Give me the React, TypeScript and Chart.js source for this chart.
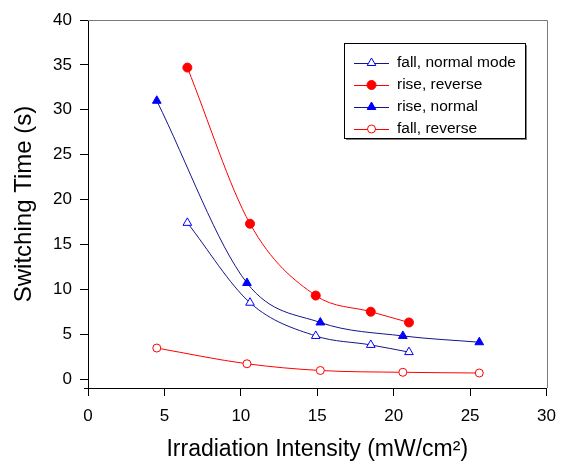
import React, { useEffect, useRef } from 'react';
import { Chart, registerables } from 'chart.js';

Chart.register(...registerables);

const FONT = "'Liberation Sans', Arial, sans-serif";

const xTicks = [0, 5, 10, 15, 20, 25, 30];
const yTicks = [0, 5, 10, 15, 20, 25, 30, 35, 40];

const seriesNames = ['fall, normal mode', 'rise, reverse', 'rise, normal', 'fall, reverse'];

const fallNormalX = [6.5, 10.6, 14.9, 18.5, 21.0];
const fallNormalY = [17.4, 8.5, 4.8, 3.8, 3.0];

const riseReverseX = [6.5, 10.6, 14.9, 18.5, 21.0];
const riseReverseY = [34.7, 17.3, 9.3, 7.5, 6.3];

const riseNormalX = [4.5, 10.4, 15.2, 20.6, 25.6];
const riseNormalY = [31.0, 10.7, 6.3, 4.8, 4.1];

const fallReverseX = [4.5, 10.4, 15.2, 20.6, 25.6];
const fallReverseY = [3.45, 1.7, 0.95, 0.75, 0.67];

const BLUE_LINE = '#14148c';
const BLUE = '#0000ff';
const RED = '#ff0000';

const toPts = (xs: number[], ys: number[]) => xs.map((x, i) => ({ x, y: ys[i] }));

const seriesStyles = [
  { line: BLUE_LINE, mark: BLUE, shape: 'triangle', fill: '#ffffff', r: 5 },
  { line: RED, mark: RED, shape: 'circle', fill: RED, r: 4.5 },
  { line: BLUE_LINE, mark: BLUE, shape: 'triangle', fill: BLUE, r: 5 },
  { line: RED, mark: RED, shape: 'circle', fill: '#ffffff', r: 4 },
];

function drawMarker(ctx: CanvasRenderingContext2D, shape: string, x: number, y: number, r: number, fill: string, stroke: string) {
  ctx.beginPath();
  if (shape === 'circle') {
    ctx.arc(x, y, r, 0, Math.PI * 2);
  } else {
    let rad = 0;
    ctx.moveTo(x + Math.sin(rad) * r, y - Math.cos(rad) * r);
    rad += (2 * Math.PI) / 3;
    ctx.lineTo(x + Math.sin(rad) * r, y - Math.cos(rad) * r);
    rad += (2 * Math.PI) / 3;
    ctx.lineTo(x + Math.sin(rad) * r, y - Math.cos(rad) * r);
    ctx.closePath();
  }
  ctx.fillStyle = fill;
  ctx.fill();
  ctx.lineWidth = 1;
  ctx.strokeStyle = stroke;
  ctx.stroke();
}

const framePlugin = {
  id: 'grayFrame',
  beforeDatasetsDraw(chart: any) {
    const { ctx, chartArea } = chart;
    const { left, right, top, bottom } = chartArea;
    ctx.save();
    ctx.lineWidth = 1;
    ctx.strokeStyle = '#7a7a7a';
    ctx.beginPath();
    ctx.moveTo(left, Math.round(top) + 0.5);
    ctx.lineTo(Math.round(right) + 0.5, Math.round(top) + 0.5);
    ctx.lineTo(Math.round(right) + 0.5, bottom);
    ctx.stroke();
    // axis overhangs at the lower-left corner
    ctx.strokeStyle = '#000';
    ctx.beginPath();
    ctx.moveTo(Math.round(left) + 0.5, bottom);
    ctx.lineTo(Math.round(left) + 0.5, bottom + 5);
    ctx.moveTo(left - 4, Math.round(bottom) + 0.5);
    ctx.lineTo(left, Math.round(bottom) + 0.5);
    ctx.stroke();
    ctx.restore();
  },
};

const legendPlugin = {
  id: 'boxLegend',
  afterDraw(chart: any) {
    const ctx: CanvasRenderingContext2D = chart.ctx;
    const left = 344, top = 43, w = 181, h = 95;
    ctx.save();
    ctx.fillStyle = '#808080';
    ctx.fillRect(left + 2, top + 2, w, h);
    ctx.fillStyle = '#ffffff';
    ctx.fillRect(left, top, w, h);
    ctx.strokeStyle = '#000000';
    ctx.lineWidth = 1;
    ctx.strokeRect(left + 0.5, top + 0.5, w, h);
    const rowY0 = 63, rowGap = 22;
    ctx.font = `15.5px ${FONT}`;
    ctx.textBaseline = 'middle';
    ctx.textAlign = 'left';
    seriesNames.forEach((name, i) => {
      const s = seriesStyles[i];
      const y = rowY0 + i * rowGap;
      ctx.beginPath();
      ctx.moveTo(354, y + 0.5);
      ctx.lineTo(389, y + 0.5);
      ctx.strokeStyle = s.line;
      ctx.lineWidth = 1;
      ctx.stroke();
      drawMarker(ctx, s.shape, 371.5, y, s.r, s.fill, s.mark);
      ctx.fillStyle = '#000000';
      ctx.fillText(name, 397, y);
    });
    ctx.restore();
  },
};

export default function App() {
  const ref = useRef<HTMLCanvasElement>(null);

  useEffect(() => {
    document.body.style.margin = '0';
    const dataSets = [
      toPts(fallNormalX, fallNormalY),
      toPts(riseReverseX, riseReverseY),
      toPts(riseNormalX, riseNormalY),
      toPts(fallReverseX, fallReverseY),
    ];
    const chart = new Chart(ref.current as HTMLCanvasElement, {
      type: 'line',
      data: {
        datasets: dataSets.map((d, i) => ({
          label: seriesNames[i],
          data: d,
          borderColor: seriesStyles[i].line,
          borderWidth: 1,
          pointStyle: seriesStyles[i].shape as any,
          pointRadius: seriesStyles[i].r,
          pointBorderWidth: 1,
          pointBackgroundColor: seriesStyles[i].fill,
          pointBorderColor: seriesStyles[i].mark,
          cubicInterpolationMode: 'monotone' as const,
          fill: false,
          clip: false as any,
        })),
      },
      options: {
        animation: false,
        responsive: true,
        maintainAspectRatio: false,
        layout: { padding: { left: 0, top: 20, right: 14, bottom: 0 } },
        plugins: { legend: { display: false }, tooltip: { enabled: false } },
        scales: {
          x: {
            type: 'linear',
            min: 0,
            max: 30,
            afterBuildTicks: (s: any) => { s.ticks = xTicks.map((v) => ({ value: v })); },
            afterFit: (s: any) => { s.height = 84; },
            grid: { display: true, drawOnChartArea: false, drawTicks: true, tickLength: 8, color: '#000', lineWidth: 1 },
            border: { display: true, color: '#000', width: 1 },
            ticks: { font: { family: FONT, size: 17 }, color: '#000', padding: 10, maxRotation: 0, autoSkip: false },
            title: {
              display: true,
              text: 'Irradiation Intensity (mW/cm²)',
              font: { family: FONT, size: 23 },
              color: '#000',
              padding: { top: 0, bottom: 9 },
            },
          },
          y: {
            type: 'linear',
            min: -1,
            max: 40,
            afterBuildTicks: (s: any) => { s.ticks = yTicks.map((v) => ({ value: v })); },
            afterFit: (s: any) => { s.width = 88; },
            grid: { display: true, drawOnChartArea: false, drawTicks: true, tickLength: 8, color: '#000', lineWidth: 1 },
            border: { display: true, color: '#000', width: 1 },
            ticks: { font: { family: FONT, size: 17 }, color: '#000', padding: 8, autoSkip: false },
            title: {
              display: true,
              text: 'Switching Time (s)',
              font: { family: FONT, size: 24 },
              color: '#000',
              padding: { top: 10, bottom: 0 },
            },
          },
        },
      },
      plugins: [framePlugin, legendPlugin],
    });
    return () => chart.destroy();
  }, []);

  return (
    <div style={{ width: 566, height: 472, position: 'relative', background: '#fff' }}>
      <canvas ref={ref} />
    </div>
  );
}
